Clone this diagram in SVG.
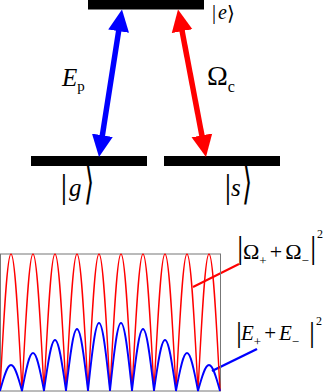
<svg xmlns="http://www.w3.org/2000/svg" width="326" height="392" viewBox="0 0 326 392">
<defs>
<style>
.bar{fill:#000}
.t{font-family:"Liberation Serif","DejaVu Serif",serif;fill:#000}
.it{font-style:italic}
.br{font-family:"DejaVu Serif","Liberation Serif",serif;fill:#000;font-size:26px}
.arrB{stroke:#0000ff;stroke-width:5.5;fill:none}
.arrR{stroke:#ff0000;stroke-width:5.5;fill:none}
</style>
<marker id="hB" markerUnits="userSpaceOnUse" markerWidth="24" markerHeight="24" viewBox="0 -11 24 22" refX="7" refY="0" orient="auto-start-reverse"><path d="M0,-10.5 L22,0 L0,10.5 z" fill="#0000ff"/></marker>
<marker id="hR" markerUnits="userSpaceOnUse" markerWidth="24" markerHeight="24" viewBox="0 -11 24 22" refX="7" refY="0" orient="auto-start-reverse"><path d="M0,-10.5 L22,0 L0,10.5 z" fill="#ff0000"/></marker>
</defs>
<rect width="326" height="392" fill="#fff"/>

<g id="level-e">
<rect class="bar" x="88" y="-1" width="116" height="10.5"/>
<text class="t" x="212" y="18.5" font-size="20">|</text>
<text class="t it" x="218" y="18.5" font-size="20">e</text>
<text class="br" x="227" y="19.5" font-size="20" style="font-size:20px">⟩</text>
</g>
<g id="level-g">
<rect class="bar" x="31" y="156" width="116" height="10"/>
<text class="t" x="60.5" y="198" font-size="34">|</text>
<text class="t it" x="69" y="196" font-size="25">g</text>
<text class="br" transform="translate(84,198) scale(1,1.875)">⟩</text>
</g>
<g id="level-s">
<rect class="bar" x="164" y="156" width="116" height="10"/>
<text class="t" x="224.5" y="198" font-size="34">|</text>
<text class="t it" x="231" y="196" font-size="25">s</text>
<text class="br" transform="translate(242,198) scale(1,1.875)">⟩</text>
</g>

<g id="connectors">
<line class="arrB" x1="119.69" y1="24.32" x2="101.31" y2="142.18" marker-start="url(#hB)" marker-end="url(#hB)"/>
<line class="arrR" x1="180.80" y1="24.24" x2="203.20" y2="142.26" marker-start="url(#hR)" marker-end="url(#hR)"/>
<line x1="193" y1="287" x2="239" y2="264" stroke="#ff0000" stroke-width="2"/>
<line x1="212" y1="371" x2="257" y2="349" stroke="#0000ff" stroke-width="2.5"/>
</g>

<g id="label-Ep">
<text class="t it" x="62" y="86" font-size="25">E<tspan font-style="normal" font-size="15" dy="5">p</tspan></text>
</g>
<g id="label-Oc">
<text class="t" x="207" y="85" font-size="28">Ω<tspan font-size="16" dy="7">c</tspan></text>
</g>

<g id="plot">
<rect x="0.5" y="254" width="220" height="137" fill="none" stroke="#777" stroke-width="1"/>
<path fill="none" stroke="#ff0000" stroke-width="1.4" d="M0,391
C3.87,315.33 7.13,254 11,254 C14.87,254 18.13,315.33 22,391
C25.87,315.33 29.13,254 33,254 C36.87,254 40.13,315.33 44,391
C47.87,315.33 51.13,254 55,254 C58.87,254 62.13,315.33 66,391
C69.87,315.33 73.13,254 77,254 C80.87,254 84.13,315.33 88,391
C91.87,315.33 95.13,254 99,254 C102.87,254 106.13,315.33 110,391
C113.87,315.33 117.13,254 121,254 C124.87,254 128.13,315.33 132,391
C135.87,315.33 139.13,254 143,254 C146.87,254 150.13,315.33 154,391
C157.87,315.33 161.13,254 165,254 C168.87,254 172.13,315.33 176,391
C179.87,315.33 183.13,254 187,254 C190.87,254 194.13,315.33 198,391
C201.87,315.33 205.13,254 209,254 C212.87,254 216.13,315.33 220,391"/>
<path fill="none" stroke="#0000ff" stroke-width="1.8" d="M0,391
C3.87,376.64 7.13,365 11,365 C14.87,365 18.13,376.64 22,391
C25.87,370.01 29.13,353 33,353 C36.87,353 40.13,370.01 44,391
C47.87,362.83 51.13,340 55,340 C58.87,340 62.13,362.83 66,391
C69.87,356.76 73.13,329 77,329 C80.87,329 84.13,356.76 88,391
C91.87,353.44 95.13,323 99,323 C102.87,323 106.13,353.44 110,391
C113.87,353.44 117.13,323 121,323 C124.87,323 128.13,353.44 132,391
C135.87,356.76 139.13,329 143,329 C146.87,329 150.13,356.76 154,391
C157.87,362.83 161.13,340 165,340 C168.87,340 172.13,362.83 176,391
C179.87,370.01 183.13,353 187,353 C190.87,353 194.13,370.01 198,391
C201.87,376.64 205.13,365 209,365 C212.87,365 216.13,376.64 220,391"/>
</g>

<g id="label-Omega">
<text class="t" x="237" y="258" font-size="32">|</text>
<text class="t" x="243" y="259" font-size="22">Ω<tspan font-size="13" dy="6">+</tspan><tspan dy="-6" dx="3">+</tspan><tspan dx="3">Ω</tspan><tspan font-size="13" dy="6">−</tspan></text>
<text class="t" x="310" y="258" font-size="32">|</text>
<text class="t" x="317" y="238" font-size="12">2</text>
</g>
<g id="label-E">
<text class="t" x="236" y="342" font-size="30">|</text>
<text class="t it" x="241" y="340" font-size="21">E<tspan font-style="normal" font-size="13" dy="6">+</tspan><tspan font-style="normal" dy="-6" dx="3">+</tspan><tspan dx="3">E</tspan><tspan font-style="normal" font-size="13" dy="6">−</tspan></text>
<text class="t" x="309" y="342" font-size="30">|</text>
<text class="t" x="316" y="325" font-size="12">2</text>
</g>
</svg>
